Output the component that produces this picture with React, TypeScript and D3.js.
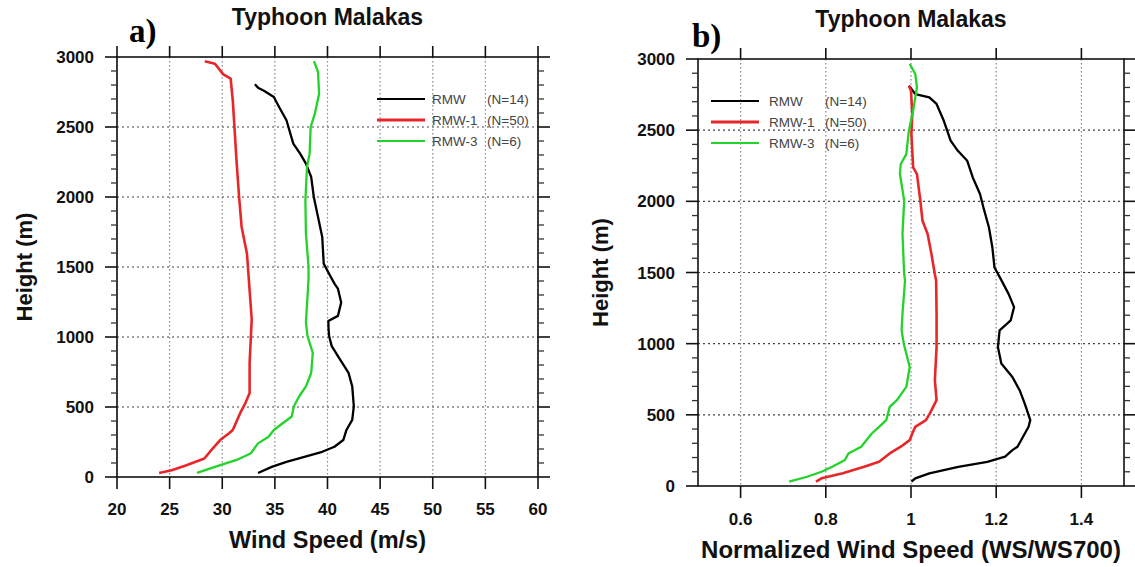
import React from "react";
import * as d3 from "d3";

// ---------- Data (height in m, value) ----------
const titleText = "Typhoon Malakas";
const legendNames = ["RMW", "RMW-1", "RMW-3"];
const legendCounts = ["(N=14)", "(N=50)", "(N=6)"];
const seriesColors = ["#000000", "#e8262a", "#22d32a"];

const heightTicks = [0, 500, 1000, 1500, 2000, 2500, 3000];
const windTicksA = [20, 25, 30, 35, 40, 45, 50, 55, 60];
const normTicksB = [0.6, 0.8, 1, 1.2, 1.4];

// Panel a: wind speed (m/s)
const aRMW: [number, number][] = [
  [29, 33.4], [72, 34.7], [108, 36.1], [144, 37.8], [180, 39.5], [216, 40.66], [264, 41.5], [336, 41.8],
  [408, 42.35], [504, 42.5], [647, 42.35], [743, 42.0], [839, 41.2], [935, 40.4], [1007, 40.15], [1060, 40.1],
  [1115, 40.08], [1151, 40.99], [1247, 41.3], [1343, 41.0], [1381, 40.66], [1452, 40.15], [1524, 39.64],
  [1714, 39.5], [1857, 39.1], [2000, 38.7], [2143, 38.45], [2238, 37.95], [2310, 37.4], [2381, 36.75],
  [2548, 36.1], [2643, 35.4], [2714, 34.9], [2757, 34.0], [2781, 33.4], [2805, 33.1],
];
const aRMW1: [number, number][] = [
  [29, 24.0], [48, 25.2], [84, 26.6], [132, 28.3], [192, 28.96], [264, 29.8], [312, 30.65], [336, 31.0],
  [456, 31.7], [528, 32.2], [600, 32.6], [815, 32.6], [1127, 32.8], [1333, 32.6], [1595, 32.35],
  [1786, 31.84], [2000, 31.6], [2286, 31.33], [2500, 31.16], [2690, 31.0], [2845, 30.8], [2876, 30.1],
  [2952, 29.3], [2969, 28.34],
];
const aRMW3: [number, number][] = [
  [29, 27.6], [72, 29.3], [120, 31.3], [168, 32.7], [240, 33.4], [288, 34.4], [336, 34.9], [384, 35.75],
  [432, 36.6], [504, 36.8], [575, 37.3], [647, 37.95], [743, 38.45], [887, 38.6], [1007, 38.1],
  [1103, 37.95], [1415, 38.2], [1500, 38.2], [1738, 37.95], [1976, 37.9], [2214, 38.05], [2310, 38.3],
  [2500, 38.4], [2595, 38.8], [2738, 39.2], [2893, 39.1], [2971, 38.72],
];

// Panel b: normalized wind speed (WS/WS700)
const bRMW: [number, number][] = [
  [30, 1.001], [54, 1.01], [89, 1.043], [135, 1.111], [170, 1.179], [206, 1.221], [252, 1.238], [276, 1.25],
  [346, 1.263], [416, 1.276], [463, 1.28], [579, 1.267], [673, 1.255], [766, 1.238], [860, 1.212],
  [976, 1.204], [1093, 1.208], [1163, 1.234], [1257, 1.242], [1350, 1.229], [1441, 1.213], [1535, 1.196],
  [1676, 1.191], [1816, 1.183], [1957, 1.17], [2051, 1.162], [2168, 1.145], [2285, 1.132], [2355, 1.11],
  [2426, 1.093], [2566, 1.077], [2684, 1.06], [2730, 1.043], [2754, 1.01], [2812, 0.995],
];
const bRMW1: [number, number][] = [
  [30, 0.777], [54, 0.79], [89, 0.84], [135, 0.89], [170, 0.925], [229, 0.95], [276, 0.976], [322, 0.997],
  [369, 1.003], [416, 1.01], [463, 1.035], [509, 1.044], [603, 1.06], [743, 1.056], [976, 1.06],
  [1210, 1.06], [1444, 1.059], [1488, 1.056], [1629, 1.048], [1770, 1.039], [1863, 1.027], [2004, 1.022],
  [2191, 1.014], [2238, 1.005], [2473, 1.001], [2613, 1.003], [2777, 1.0], [2812, 0.995],
];
const bRMW3: [number, number][] = [
  [30, 0.714], [65, 0.756], [100, 0.79], [135, 0.815], [182, 0.845], [229, 0.853], [276, 0.883],
  [369, 0.908], [416, 0.925], [463, 0.942], [556, 0.95], [603, 0.967], [696, 0.989], [836, 0.997],
  [883, 0.993], [1000, 0.983], [1093, 0.978], [1210, 0.98], [1444, 0.986], [1488, 0.984], [1770, 0.98],
  [2004, 0.984], [2192, 0.974], [2262, 0.976], [2332, 0.989], [2496, 0.995], [2637, 1.005], [2801, 1.014],
  [2895, 1.01], [2965, 0.997],
];

const FONT = "'Liberation Sans', Arial, Helvetica, sans-serif";

type PanelProps = {
  x0: number; x1: number; y0: number; y1: number;
  domain: [number, number];
  xTicks: number[];
  fmt: (v: number) => string;
  series: [number, number][][];
  letter: string;
  letterX: number; letterY: number;
  titleY: number;
  xTitle: string; xTitleSize: number; xTitleY: number; xLabY: number;
  ylabX: number;
  legendX: number; legendY: number; legendTextDx: number; legendCountDx: number;
};

function Panel(p: PanelProps) {
  const x = d3.scaleLinear().domain(p.domain).range([p.x0, p.x1]);
  const y = d3.scaleLinear().domain([0, 3000]).range([p.y1, p.y0]);
  const line = d3.line<[number, number]>().x((d) => x(d[1])).y((d) => y(d[0])).curve(d3.curveLinear);
  const minorY = d3.range(0, 3001, 100).filter((v) => v % 500 !== 0);
  const cx = (p.x0 + p.x1) / 2;
  const cy = (p.y0 + p.y1) / 2;
  const widths = [2.3, 2.6, 2.3];
  return (
    <g>
      {/* grid */}
      {p.xTicks.map((t) => (
        <line key={"gx" + t} x1={x(t)} x2={x(t)} y1={p.y0} y2={p.y1} stroke="#888" strokeWidth={1.2} strokeDasharray="1.5,2.5" />
      ))}
      {heightTicks.filter((t) => t > 0 && t < 3000).map((t) => (
        <line key={"gy" + t} x1={p.x0} x2={p.x1} y1={y(t)} y2={y(t)} stroke="#444" strokeWidth={1.2} strokeDasharray="2,3" />
      ))}
      {/* series */}
      {p.series.map((s, i) => (
        <path key={"s" + i} d={line(s) || ""} fill="none" stroke={seriesColors[i]} strokeWidth={widths[i]} strokeLinejoin="round" />
      ))}
      {/* frame */}
      <rect x={p.x0} y={p.y0} width={p.x1 - p.x0} height={p.y1 - p.y0} fill="none" stroke="#111" strokeWidth={1.6} />
      {/* y ticks */}
      {heightTicks.map((t) => (
        <g key={"yt" + t}>
          <line x1={p.x0 - 12} x2={p.x0} y1={y(t)} y2={y(t)} stroke="#111" strokeWidth={1.6} />
          <line x1={p.x1} x2={p.x1 + 12} y1={y(t)} y2={y(t)} stroke="#111" strokeWidth={1.6} />
          <text x={p.x0 - 23} y={y(t)} dy="0.36em" textAnchor="end" fontFamily={FONT} fontWeight="bold" fontSize={17} fill="#111">{t}</text>
        </g>
      ))}
      {minorY.map((t) => (
        <g key={"ym" + t}>
          <line x1={p.x0 - 6} x2={p.x0} y1={y(t)} y2={y(t)} stroke="#333" strokeWidth={1.3} />
          <line x1={p.x1} x2={p.x1 + 6} y1={y(t)} y2={y(t)} stroke="#333" strokeWidth={1.3} />
        </g>
      ))}
      {/* x ticks */}
      {p.xTicks.map((t) => (
        <g key={"xt" + t}>
          <line x1={x(t)} x2={x(t)} y1={p.y0 - 11} y2={p.y0} stroke="#111" strokeWidth={1.6} />
          <line x1={x(t)} x2={x(t)} y1={p.y1} y2={p.y1 + 12} stroke="#111" strokeWidth={1.6} />
          <text x={x(t)} y={p.xLabY} textAnchor="middle" fontFamily={FONT} fontWeight="bold" fontSize={17} fill="#111">{p.fmt(t)}</text>
        </g>
      ))}
      {/* titles */}
      <text x={cx} y={p.titleY} textAnchor="middle" fontFamily={FONT} fontWeight="bold" fontSize={23} fill="#111">{titleText}</text>
      <text x={cx} y={p.xTitleY} textAnchor="middle" fontFamily={FONT} fontWeight="bold" fontSize={p.xTitleSize} fill="#111">{p.xTitle}</text>
      <text transform={`translate(${p.ylabX},${cy}) rotate(-90)`} textAnchor="middle" fontFamily={FONT} fontWeight="bold" fontSize={22} fill="#111">Height (m)</text>
      <text x={p.letterX} y={p.letterY} fontFamily="'Liberation Serif', 'Times New Roman', serif" fontWeight="bold" fontSize={33} fill="#000">{p.letter}</text>
      {/* legend */}
      {legendNames.map((n, i) => {
        const ly = p.legendY + i * 21;
        return (
          <g key={"lg" + i}>
            <line x1={p.legendX} x2={p.legendX + 48} y1={ly} y2={ly} stroke={seriesColors[i]} strokeWidth={i === 1 ? 3 : 2} />
            <text x={p.legendX + p.legendTextDx} y={ly} dy="0.36em" fontFamily={FONT} fontSize={13.5} fill="#444">{n}</text>
            <text x={p.legendX + p.legendCountDx} y={ly} dy="0.36em" fontFamily={FONT} fontSize={13.5} fill="#444">{legendCounts[i]}</text>
          </g>
        );
      })}
    </g>
  );
}

export default function App() {
  return (
    <svg width={1135} height={567} style={{ position: "absolute", left: 0, top: 0, background: "#fff" }}>
      <rect x={0} y={0} width={1135} height={567} fill="#fff" />
      <Panel
        x0={117} x1={538} y0={57} y1={477}
        domain={[20, 60]}
        xTicks={windTicksA}
        fmt={(v) => String(v)}
        series={[aRMW, aRMW1, aRMW3]}
        letter="a)" letterX={129} letterY={42}
        titleY={25}
        xTitle="Wind Speed (m/s)" xTitleSize={23.5} xTitleY={548} xLabY={515}
        ylabX={32}
        legendX={377} legendY={99} legendTextDx={55} legendCountDx={110}
      />
      <Panel
        x0={698} x1={1124} y0={59} y1={486}
        domain={[0.5, 1.5]}
        xTicks={normTicksB}
        fmt={(v) => String(v)}
        series={[bRMW, bRMW1, bRMW3]}
        letter="b)" letterX={692} letterY={47}
        titleY={27}
        xTitle="Normalized Wind Speed (WS/WS700)" xTitleSize={24} xTitleY={558} xLabY={525}
        ylabX={608}
        legendX={711} legendY={101} legendTextDx={58} legendCountDx={114}
      />
    </svg>
  );
}
